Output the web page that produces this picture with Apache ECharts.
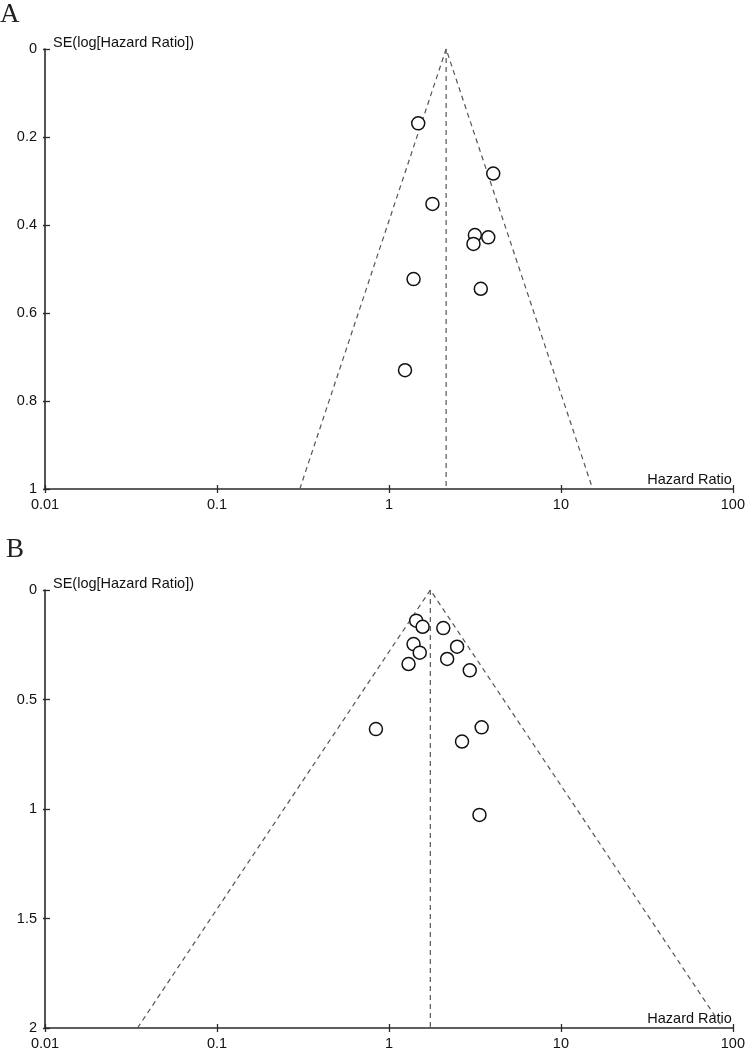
<!DOCTYPE html>
<html>
<head>
<meta charset="utf-8">
<script src="https://cdn.jsdelivr.net/npm/echarts@6/dist/echarts.min.js"></script>
<style>
  html, body { margin: 0; padding: 0; background: #fff; }
  #chart { width: 748px; height: 1051px; }
</style>
</head>
<body>
<div id="chart"></div>
<script>
// ---- Data ----
const panelLabels = ['A', 'B'];
const xAxisName = 'Hazard Ratio';
const yAxisName = 'SE(log[Hazard Ratio])';
const xTicks = [0.01, 0.1, 1, 10, 100];

// Panel A studies
const hrA = [1.48, 4.04, 1.79, 3.16, 3.78, 3.10, 1.39, 3.42, 1.24];
const seA = [0.169, 0.283, 0.352, 0.423, 0.428, 0.443, 0.523, 0.545, 0.730];
const pooledA = 2.15;
const funnelEndsA = [0.303, 15.3];   // HR of funnel limits at SE max
const seMaxA = 1;
const seIntervalA = 0.2;

// Panel B studies
const hrB = [1.44, 1.57, 2.07, 1.39, 2.49, 1.51, 2.18, 1.30, 2.95, 0.84, 3.46, 2.66, 3.36];
const seB = [0.140, 0.168, 0.174, 0.247, 0.259, 0.286, 0.315, 0.338, 0.367, 0.635, 0.627, 0.692, 1.027];
const pooledB = 1.74;
const funnelEndsB = [0.0345, 87.6];
const seMaxB = 2;
const seIntervalB = 0.5;

// ---- Build chart ----
const FONT = 'Liberation Sans, Arial, sans-serif';
const SERIF = 'Liberation Serif, Times New Roman, serif';
const axisColor = '#2a2a2a';
const dashColor = '#555';

function fmtNum(v) { return String(+(+v).toPrecision(6)); }

const grids = [
  { left: 45, right: 12, top: 49, height: 440 },
  { left: 45, right: 12, top: 590, height: 440 }
];

const xAxes = [];
const yAxes = [];
const series = [];

const panels = [
  { hr: hrA, se: seA, pooled: pooledA, ends: funnelEndsA, seMax: seMaxA, interval: seIntervalA },
  { hr: hrB, se: seB, pooled: pooledB, ends: funnelEndsB, seMax: seMaxB, interval: seIntervalB }
];

panels.forEach((p, i) => {
  // main x axis (labels, outer ticks)
  xAxes.push({
    type: 'log', logBase: 10, min: xTicks[0], max: xTicks[xTicks.length - 1],
    gridIndex: i, position: 'bottom',
    name: xAxisName, nameLocation: 'end', nameGap: -1,
    nameTextStyle: { fontFamily: FONT, fontSize: 14.5, color: '#111', align: 'right', verticalAlign: 'bottom', padding: [0, 0, 2, 0] },
    axisLine: { show: true, onZero: false, lineStyle: { color: axisColor, width: 1.6 } },
    axisTick: { show: true, length: 4, lineStyle: { color: axisColor, width: 1.3 } },
    axisLabel: { fontFamily: FONT, fontSize: 14.5, color: '#111', margin: 8, formatter: fmtNum, showMinLabel: true, showMaxLabel: true },
    splitLine: { show: false }
  });
  // duplicate x axis for inner tick halves
  xAxes.push({
    type: 'log', logBase: 10, min: xTicks[0], max: xTicks[xTicks.length - 1],
    gridIndex: i, position: 'bottom', offset: 0,
    axisLine: { show: false, onZero: false },
    axisTick: { show: true, inside: true, length: 4, lineStyle: { color: axisColor, width: 1.3 } },
    axisLabel: { show: false },
    splitLine: { show: false }
  });
  yAxes.push({
    type: 'value', inverse: true, min: 0, max: p.seMax, interval: p.interval,
    gridIndex: i, position: 'left',
    name: yAxisName, nameLocation: 'start', nameGap: 6,
    nameTextStyle: { fontFamily: FONT, fontSize: 14.5, color: '#111', align: 'left', verticalAlign: 'middle', padding: [0, 0, 0, 8] },
    axisLine: { show: true, onZero: false, lineStyle: { color: axisColor, width: 1.6 } },
    axisTick: { show: true, length: 2, lineStyle: { color: axisColor, width: 1.3 } },
    axisLabel: { fontFamily: FONT, fontSize: 14.5, color: '#111', margin: 8, formatter: fmtNum },
    splitLine: { show: false }
  });
  yAxes.push({
    type: 'value', inverse: true, min: 0, max: p.seMax, interval: p.interval,
    gridIndex: i, position: 'left', offset: 0,
    axisLine: { show: false, onZero: false },
    axisTick: { show: true, inside: true, length: 5, lineStyle: { color: axisColor, width: 1.3 } },
    axisLabel: { show: false },
    splitLine: { show: false }
  });

  const xi = i * 2, yi = i * 2;
  // funnel limits
  series.push({
    type: 'line', xAxisIndex: xi, yAxisIndex: yi, symbol: 'none', silent: true, z: 1,
    lineStyle: { color: dashColor, width: 1.2, type: [5, 4] },
    data: [[p.ends[0], p.seMax], [p.pooled, 0], [p.ends[1], p.seMax]]
  });
  // pooled estimate vertical line
  series.push({
    type: 'line', xAxisIndex: xi, yAxisIndex: yi, symbol: 'none', silent: true, z: 1,
    lineStyle: { color: dashColor, width: 1.2, type: [5, 4] },
    data: [[p.pooled, 0], [p.pooled, p.seMax]]
  });
  // studies
  series.push({
    type: 'scatter', xAxisIndex: xi, yAxisIndex: yi, z: 3,
    symbol: 'circle', symbolSize: 13,
    itemStyle: { color: '#fff', borderColor: '#111', borderWidth: 1.5, opacity: 1 },
    data: p.hr.map((h, k) => [h, p.se[k]])
  });
});

const chart = echarts.init(document.getElementById('chart'), null, { renderer: 'canvas' });
chart.setOption({
  animation: false,
  backgroundColor: '#fff',
  title: [
    { text: panelLabels[0], left: 0, top: 1, padding: 0,
      textStyle: { fontFamily: SERIF, fontSize: 27, fontWeight: 'normal', color: '#222' } },
    { text: panelLabels[1], left: 6, top: 536, padding: 0,
      textStyle: { fontFamily: SERIF, fontSize: 27, fontWeight: 'normal', color: '#222' } }
  ],
  grid: grids,
  xAxis: xAxes,
  yAxis: yAxes,
  series: series
});
</script>
</body>
</html>
